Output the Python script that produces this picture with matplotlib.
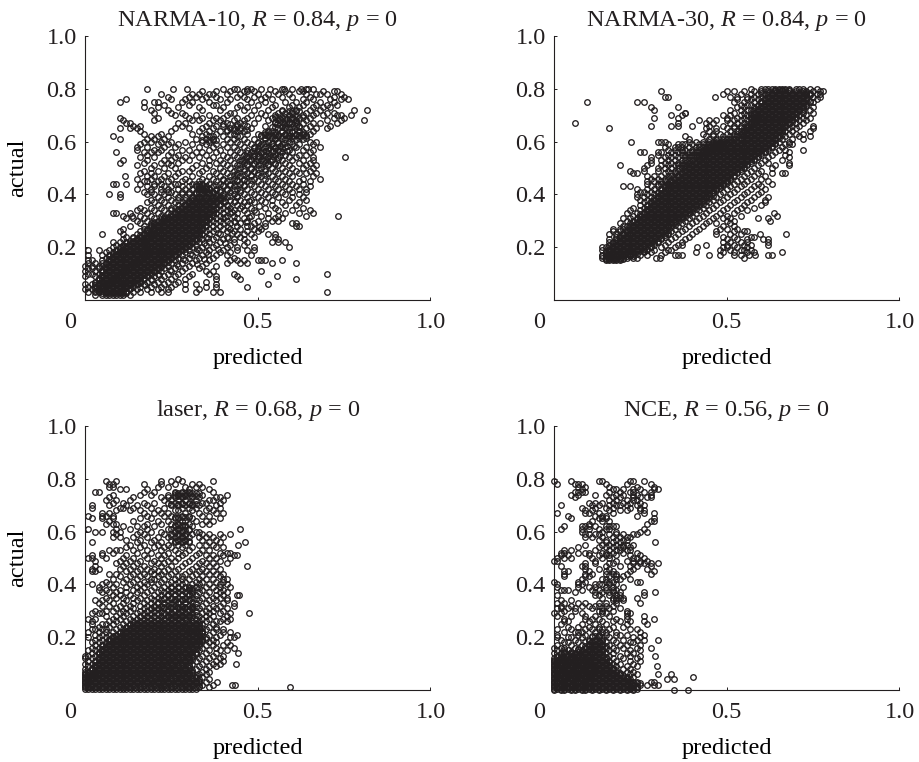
import matplotlib
matplotlib.use("Agg")
import matplotlib.pyplot as plt

# Isolated circles are individual readings; inside the solid black regions single
# circles cannot be told apart, so those rows (the *_core and *_fill lists especially)
# are hand-typed estimates of the coverage, not recovered data.
narma10_rows = [
(.80,[.18,.255,.295,.40,.43,.44,.47,.48,.51,.535,.57,.575,.60,.625,.64,.645,.66]),
(.79,[.34,.38,.42,.46,.47,.49,.55,.58,.62,.63,.69,.73,.72]),
(.78,[.22,.31,.33,.36,.37,.41,.45,.50,.53,.56,.59,.64,.67,.68,.70,.74]),
(.77,[.24,.30,.32,.35,.38,.44,.46,.49,.52,.57,.60,.65,.72,.75]),
(.76,[.12,.25,.29,.34,.39,.42,.47,.51,.54,.63,.66,.71,.76,.74]),
(.75,[.10,.17,.20,.21,.28,.31,.36,.41,.48,.52,.58,.61,.64,.68,.72]),
(.74,[.23,.30,.37,.38,.45,.50,.55,.60,.63,.67,.70,.73]),
(.73,[.17,.21,.27,.33,.40,.44,.47,.54,.59,.62,.66,.69,.71]),
(.72,[.19,.24,.34,.39,.46,.49,.53,.57,.61,.65,.68,.78,.815]),
(.71,[.20,.25,.28,.42,.43,.51,.56,.58,.60,.64,.70,.67,.72]),
(.70,[.26,.29,.32,.36,.41,.48,.52,.55,.59,.63,.66,.69,.73,.74,.77]),
(.69,[.10,.21,.30,.34,.38,.40,.44,.47,.50,.54,.57,.60,.62,.65,.75,.72]),
(.68,[.11,.20,.31,.33,.37,.39,.43,.46,.53,.56,.58,.61,.64,.807,.70,.74]),
(.67,[.12,.13,.27,.29,.36,.41,.45,.49,.55,.59,.60,.63,.66,.68,.73]),
(.66,[.14,.16,.28,.35,.38,.40,.44,.47,.52,.57,.61,.62,.65,.71]),
(.65,[.10,.13,.15,.26,.30,.34,.37,.42,.45,.43,.48,.56,.58,.59,.64,.67,.70]),
(.64,[.16,.25,.33,.36,.39,.41,.44,.46,.53,.54,.57,.60,.62,.66]),
(.63,[.17,.22,.31,.35,.38,.42,.43,.47,.50,.52,.55,.58,.61,.63,.65]),
(.62,[.08,.19,.21,.24,.34,.36,.37,.40,.44,.45,.51,.53,.54,.56,.57,.59,.60,.62,.64]),
(.61,[.10,.18,.20,.23,.32,.35,.37,.41,.43,.46,.49,.52,.55,.58,.61,.63]),
(.60,[.17,.19,.22,.25,.29,.34,.36,.42,.44,.47,.50,.53,.56,.59,.65,.67]),
(.59,[.16,.21,.24,.27,.31,.35,.38,.40,.45,.48,.51,.54,.57,.60,.62,.66]),
(.58,[.15,.18,.23,.26,.33,.37,.41,.43,.46,.49,.52,.55,.58,.61,.64,.68]),
(.57,[.15,.20,.22,.28,.30,.36,.39,.44,.47,.50,.53,.56,.59,.63,.66]),
(.56,[.09,.17,.19,.21,.25,.32,.34,.38,.42,.45,.48,.51,.54,.57,.60,.65]),
(.55,[.18,.24,.27,.31,.35,.40,.43,.46,.49,.52,.55,.58,.62,.64]),
(.54,[.16,.20,.26,.29,.33,.37,.41,.44,.47,.50,.53,.56,.59,.61,.66,.753]),
(.53,[.11,.18,.23,.28,.25,.30,.36,.39,.42,.45,.48,.51,.54,.57,.60,.63,.66]),
(.52,[.10,.17,.22,.24,.27,.34,.38,.40,.43,.46,.49,.52,.55,.58,.62,.65]),
(.51,[.15,.20,.25,.32,.36,.41,.44,.47,.50,.53,.56,.59,.64,.67]),
(.50,[.19,.23,.26,.31,.35,.39,.42,.45,.48,.51,.54,.57,.60,.63,.66]),
(.49,[.21,.17,.28,.30,.34,.37,.40,.43,.46,.49,.52,.55,.58,.61,.65]),
(.48,[.16,.19,.24,.27,.33,.38,.41,.44,.47,.50,.53,.56,.59,.62,.64,.67]),
(.47,[.115,.18,.20,.23,.26,.31,.36,.39,.42,.45,.48,.51,.54,.57,.60,.66]),
(.46,[.15,.19,.22,.25,.29,.34,.37,.40,.43,.46,.49,.52,.55,.58,.63,.68]),
(.45,[.17,.18,.21,.24,.28,.30,.33,.35,.38,.41,.44,.47,.50,.53,.56,.59,.62,.65]),
(.44,[.08,.09,.12,.16,.20,.22,.26,.27,.31,.32,.33,.34,.36,.39,.42,.45,.48,.51,.54,.57,.60,.63]),
(.43,[.18,.20,.23,.25,.28,.30,.32,.33,.34,.35,.37,.40,.43,.46,.49,.52,.55,.58,.61,.65]),
(.42,[.15,.19,.22,.24,.27,.29,.31,.33,.34,.35,.36,.38,.41,.44,.47,.50,.53,.56,.59,.62,.64]),
(.41,[.17,.19,.22,.24,.25,.28,.30,.32,.33,.34,.35,.36,.37,.39,.42,.45,.48,.51,.54,.57,.60,.64]),
(.40,[.07,.10,.18,.20,.23,.26,.28,.30,.32,.34,.36,.38,.40,.43,.46,.49,.52,.55,.58,.62]),
(.39,[.10,.21,.24,.27,.29,.31,.33,.35,.37,.39,.41,.44,.47,.50,.53,.56,.60,.63]),
(.38,[.19,.22,.25,.27,.29,.31,.33,.35,.37,.39,.42,.45,.48,.51,.54,.59,.64]),
(.37,[.18,.20,.23,.26,.28,.30,.32,.34,.36,.38,.40,.43,.46,.49,.52,.57,.62]),
(.36,[.21,.24,.27,.29,.31,.33,.35,.37,.39,.41,.44,.47,.54,.58,.61]),
(.35,[.16,.19,.22,.25,.26,.28,.30,.32,.34,.36,.38,.40,.42,.45,.48,.52,.55,.63]),
(.34,[.15,.17,.20,.23,.25,.27,.29,.31,.33,.35,.37,.39,.41,.43,.46,.49,.56,.60,.65]),
(.33,[.08,.09,.13,.18,.21,.24,.26,.28,.30,.32,.34,.36,.38,.40,.42,.44,.47,.53,.58,.62,.66]),
(.32,[.11,.135,.16,.19,.22,.25,.27,.29,.31,.33,.35,.37,.39,.41,.43,.48,.51,.56,.64,.731]),
(.31,[.12,.14,.17,.20,.23,.24,.26,.28,.30,.32,.34,.36,.38,.40,.44,.46,.53,.55,.57]),
(.30,[.15,.18,.21,.23,.25,.27,.29,.31,.33,.35,.37,.39,.41,.43,.47,.50,.54,.56]),
(.29,[.16,.19,.20,.22,.24,.26,.28,.30,.32,.34,.36,.38,.40,.42,.45,.49,.52,.60,.61]),
(.28,[.13,.17,.19,.21,.23,.25,.27,.29,.31,.33,.35,.37,.39,.44,.47,.48,.52,.61,.62]),
(.27,[.11,.17,.18,.20,.22,.24,.26,.28,.30,.32,.34,.36,.38,.40,.42,.45,.49,.51]),
(.26,[.10,.16,.18,.20,.21,.23,.25,.27,.29,.31,.33,.35,.37,.41,.43,.47,.50]),
(.25,[.05,.11,.15,.17,.19,.20,.22,.24,.26,.28,.30,.32,.34,.36,.39,.44,.46,.48,.53,.55]),
(.24,[.12,.14,.16,.18,.19,.21,.23,.25,.27,.29,.31,.33,.35,.38,.41,.45,.49,.55]),
(.23,[.11,.15,.17,.18,.20,.22,.24,.26,.28,.30,.32,.34,.37,.40,.43,.46,.56]),
(.22,[.08,.10,.12,.14,.16,.17,.19,.21,.23,.25,.27,.29,.31,.33,.36,.39,.43,.47,.54,.56,.58]),
(.21,[.09,.11,.13,.15,.17,.18,.20,.22,.24,.26,.28,.30,.32,.35,.38,.42,.46]),
(.20,[.08,.10,.12,.14,.16,.18,.19,.21,.23,.25,.27,.29,.31,.34,.37,.41,.44,.49,.59]),
(.19,[.01,.04,.07,.09,.11,.13,.15,.17,.18,.20,.22,.24,.26,.28,.30,.33,.36,.40,.44,.47,.49]),
(.18,[.06,.08,.10,.12,.14,.16,.18,.19,.21,.23,.25,.27,.29,.32,.35,.39,.42]),
(.17,[.01,.05,.07,.09,.11,.13,.15,.17,.18,.20,.22,.24,.26,.28,.31,.34,.38,.41,.48]),
(.16,[.06,.08,.10,.12,.14,.16,.17,.19,.21,.23,.25,.27,.30,.33,.37,.43]),
(.15,[.01,.02,.05,.07,.09,.11,.13,.15,.16,.18,.20,.22,.24,.26,.29,.32,.36,.42,.44,.46,.50,.51,.52,.57]),
(.14,[.01,.03,.05,.06,.08,.10,.12,.14,.15,.17,.19,.21,.23,.25,.28,.31,.35,.41,.45,.47,.54,.61]),
(.13,[.00,.02,.04,.05,.07,.09,.11,.13,.14,.16,.18,.20,.22,.24,.27,.30,.34,.38]),
(.12,[.01,.02,.04,.06,.08,.10,.12,.13,.15,.17,.19,.21,.23,.26,.29,.33]),
(.11,[.00,.03,.05,.07,.09,.11,.12,.14,.16,.18,.20,.22,.25,.28,.35,.37,.51]),
(.10,[.01,.02,.04,.06,.08,.10,.11,.13,.15,.17,.19,.21,.24,.27,.31,.36,.43,.70]),
(.09,[.00,.03,.05,.07,.09,.10,.12,.14,.16,.18,.20,.23,.26,.30,.38,.44,.555]),
(.08,[.04,.06,.08,.09,.11,.13,.15,.17,.19,.22,.25,.29,.38,.45,.61]),
(.07,[.03,.05,.07,.08,.10,.12,.14,.16,.18,.21,.24,.27,.35]),
(.06,[.00,.02,.04,.06,.07,.09,.11,.13,.15,.17,.20,.23,.26,.29,.32,.38,.53]),
(.05,[.01,.03,.05,.06,.08,.10,.12,.14,.16,.19,.22,.25,.35,.38,.47]),
(.04,[.00,.02,.04,.05,.07,.09,.11,.13,.15,.18,.21,.24,.29,.33]),
(.03,[.01,.03,.04,.06,.08,.10,.12,.14,.16,.19,.22,.24,.32,.37,.39,.70]),
(.02,[.03,.05,.06,.07,.08,.09,.10,.11,.13]),
]
narma10_core = [
(.715,[.57,.59,.60,.61,.62]),
(.695,[.55,.56,.58,.60,.61,.63]),
(.675,[.55,.57,.59,.61]),
(.665,[.40,.42,.44,.46]),
(.655,[.54,.55,.57,.58,.60,.62]),
(.645,[.41,.43,.45,.47]),
(.635,[.52,.53,.55,.57,.59,.60,.62,.63]),
(.625,[.51,.52,.53,.55,.56,.58,.59,.61,.62,.63,.64]),
(.615,[.52,.54,.55,.57,.59,.60,.62,.64]),
(.605,[.34,.36,.37,.38]),
(.595,[.50,.52,.54,.56,.58]),
(.575,[.49,.50,.53,.55,.57]),
(.555,[.47,.49,.51,.53,.55]),
(.535,[.46,.48,.50,.52,.54,.56]),
(.515,[.45,.47,.49,.51,.53,.55]),
(.495,[.44,.46,.48,.50,.52]),
(.475,[.43,.44,.46,.48,.50,.52]),
(.455,[.40,.42,.44,.46,.48]),
(.435,[.38,.40,.42,.44,.46]),
(.425,[.33,.34,.35,.36]),
(.415,[.38,.39,.41,.43,.45]),
(.405,[.32,.33,.34,.35,.36,.37]),
(.395,[.38,.40,.42,.44]),
(.385,[.31,.32,.33,.34,.35,.36,.37,.38,.39,.40]),
(.365,[.29,.30,.31,.32,.33,.34,.35,.36,.37,.38,.39]),
(.345,[.27,.28,.29,.30,.31,.32,.33,.34,.35,.36,.37,.38]),
(.325,[.25,.26,.27,.28,.29,.30,.31,.32,.33,.34,.35,.36,.37]),
(.305,[.22,.23,.24,.25,.26,.27,.28,.29,.30,.31,.32,.33,.34,.35,.36]),
(.285,[.19,.20,.21,.22,.23,.24,.25,.26,.27,.28,.29,.30,.31,.32,.33,.34,.35]),
(.265,[.18,.19,.20,.21,.22,.23,.24,.25,.26,.27,.28,.29,.30,.31,.32,.33,.34]),
(.245,[.16,.17,.18,.19,.20,.21,.22,.23,.24,.25,.26,.27,.28,.29,.30,.31,.32,.33]),
(.225,[.13,.14,.15,.16,.17,.18,.19,.20,.21,.22,.23,.24,.25,.26,.27,.28,.29,.30,.31,.32]),
(.205,[.11,.12,.13,.14,.15,.16,.17,.18,.19,.20,.21,.22,.23,.24,.25,.26,.27,.28,.29,.30]),
(.185,[.09,.10,.11,.12,.13,.14,.15,.16,.17,.18,.19,.20,.21,.22,.23,.24,.25,.26,.27]),
(.165,[.07,.08,.09,.10,.11,.12,.13,.14,.15,.16,.17,.18,.19,.20,.21,.22,.23,.24,.25,.26]),
(.145,[.07,.08,.09,.10,.11,.12,.13,.14,.15,.16,.17,.18,.19,.20,.21,.22,.23,.24]),
(.125,[.06,.07,.08,.09,.10,.11,.12,.13,.14,.15,.16,.17,.18,.19,.20,.21,.22]),
(.105,[.05,.06,.07,.08,.09,.10,.11,.12,.13,.14,.15,.16,.17,.18,.19,.20]),
(.085,[.04,.05,.06,.07,.08,.09,.10,.11,.12,.13,.14,.15,.16,.17]),
(.065,[.03,.04,.05,.06,.07,.08,.09,.10,.11,.12,.13,.14,.15,.16]),
(.045,[.03,.04,.05,.06,.07,.08,.09,.10,.11,.12,.13]),
(.025,[.05,.06,.07,.08,.09,.10,.11,.12]),
]
narma10_fill = [
(.375,[.30,.31,.32,.33,.34,.35,.36,.37,.38,.405,.435,.475]),
(.355,[.28,.29,.30,.31,.32,.33,.34,.35,.36,.37,.415,.455,.505]),
(.335,[.26,.27,.28,.29,.30,.31,.32,.33,.34,.35,.36,.37,.425,.495]),
(.315,[.23,.24,.25,.26,.27,.28,.29,.30,.31,.32,.33,.34,.35,.36,.405,.475]),
(.295,[.20,.21,.22,.23,.24,.25,.26,.27,.28,.29,.30,.31,.32,.33,.34,.35,.435,.465]),
(.275,[.19,.20,.21,.22,.23,.24,.25,.26,.27,.28,.29,.30,.31,.32,.33,.34,.415,.505]),
(.255,[.17,.18,.19,.20,.21,.22,.23,.24,.25,.26,.27,.28,.29,.30,.31,.32,.33,.385,.425]),
(.235,[.14,.15,.16,.17,.18,.19,.20,.21,.22,.23,.24,.25,.26,.27,.28,.29,.30,.31,.32,.355,.415]),
(.215,[.12,.13,.14,.15,.16,.17,.18,.19,.20,.21,.22,.23,.24,.25,.26,.27,.28,.29,.30,.31,.345,.405]),
(.195,[.10,.11,.12,.13,.14,.15,.16,.17,.18,.19,.20,.21,.22,.23,.24,.25,.26,.27,.28,.29,.325,.385]),
(.175,[.08,.09,.10,.11,.12,.13,.14,.15,.16,.17,.18,.19,.20,.21,.22,.23,.24,.25,.26,.27,.305,.355]),
(.155,[.07,.08,.09,.10,.11,.12,.13,.14,.15,.16,.17,.18,.19,.20,.21,.22,.23,.24,.25,.285,.345]),
(.135,[.06,.07,.08,.09,.10,.11,.12,.13,.14,.15,.16,.17,.18,.19,.20,.21,.22,.23,.265,.325]),
(.115,[.05,.06,.07,.08,.09,.10,.11,.12,.13,.14,.15,.16,.17,.18,.19,.20,.21,.245]),
(.095,[.05,.06,.07,.08,.09,.10,.11,.12,.13,.14,.15,.16,.17,.18,.215]),
(.075,[.04,.05,.06,.07,.08,.09,.10,.11,.12,.13,.14,.15,.16,.195]),
(.055,[.03,.04,.05,.06,.07,.08,.09,.10,.11,.12,.13,.14,.175]),
(.035,[.03,.04,.05,.06,.07,.08,.09,.10,.11,.12]),
(.585,[.505,.525,.545,.565,.585,.605]),
(.565,[.485,.505,.525,.545,.565,.585]),
(.545,[.465,.485,.505,.525,.545,.565]),
(.525,[.455,.475,.495,.515,.535]),
(.665,[.555,.575,.595,.615]),
(.685,[.565,.585,.605]),
]

narma30_rows = [
(.80,[.57,.60,.61,.62,.63,.64,.65,.66,.67,.68,.70,.71,.72,.74,.76]),
(.79,[.50,.52,.55,.58,.60,.62,.64,.66,.68,.70,.72,.73,.75,.77,.78,.31]),
(.78,[.49,.54,.57,.59,.61,.63,.65,.67,.69,.71,.73,.74,.76,.77]),
(.77,[.33,.32,.465,.51,.53,.56,.58,.60,.62,.64,.66,.68,.70,.72,.75,.77]),
(.76,[.53,.56,.57,.59,.61,.63,.65,.67,.69,.71,.73,.76]),
(.75,[.096,.24,.26,.52,.55,.58,.60,.62,.64,.66,.68,.70,.72,.74,.75]),
(.74,[.54,.56,.57,.59,.61,.63,.65,.67,.69,.71,.73]),
(.73,[.28,.36,.53,.55,.58,.60,.62,.64,.66,.68,.70,.72,.75]),
(.72,[.29,.51,.54,.56,.57,.59,.61,.63,.65,.67,.69,.71,.74]),
(.71,[.38,.38,.52,.55,.58,.60,.62,.64,.66,.68,.70,.72,.75]),
(.70,[.34,.37,.49,.51,.54,.56,.57,.59,.61,.63,.65,.67,.69,.71,.73]),
(.69,[.29,.36,.50,.53,.55,.57,.59,.60,.62,.64,.66,.68,.70,.72,.74]),
(.68,[.42,.45,.47,.50,.52,.54,.56,.58,.59,.61,.63,.65,.67,.69,.71,.73]),
(.67,[.062,.36,.44,.46,.51,.53,.55,.57,.58,.60,.62,.64,.66,.68,.70,.72]),
(.66,[.28,.34,.36,.40,.45,.49,.52,.54,.56,.57,.59,.61,.63,.65,.67,.69,.71,.75]),
(.65,[.158,.44,.47,.50,.52,.54,.55,.56,.58,.60,.62,.64,.66,.68,.70,.75]),
(.64,[.45,.47,.51,.53,.54,.55,.57,.59,.61,.63,.65,.67,.69,.74]),
(.63,[.43,.46,.48,.50,.52,.53,.54,.56,.58,.60,.62,.64,.66,.68,.70,.72]),
(.62,[.38,.44,.46,.49,.51,.52,.53,.55,.57,.59,.61,.63,.65,.67,.71,.74]),
(.61,[.39,.45,.47,.49,.50,.51,.52,.54,.56,.58,.60,.62,.64,.66,.69,.72]),
(.60,[.224,.30,.31,.32,.39,.41,.43,.45,.46,.47,.48,.49,.50,.51,.53,.55,.57,.59,.61,.63,.65,.68]),
(.59,[.33,.36,.37,.38,.40,.42,.43,.44,.45,.46,.47,.48,.49,.50,.52,.54,.56,.58,.60,.62,.64,.67,.68,.69]),
(.58,[.32,.35,.36,.37,.39,.41,.42,.43,.44,.45,.46,.47,.48,.49,.51,.53,.55,.57,.59,.61,.63,.66]),
(.57,[.33,.35,.37,.38,.40,.41,.42,.43,.44,.45,.46,.47,.48,.50,.52,.54,.56,.58,.60,.62,.65,.67,.72]),
(.56,[.25,.26,.30,.31,.34,.36,.37,.39,.40,.41,.42,.43,.44,.45,.47,.49,.51,.53,.55,.57,.59,.61,.64,.68]),
(.55,[.30,.33,.35,.37,.38,.39,.40,.41,.42,.43,.44,.46,.48,.50,.52,.54,.56,.58,.60,.63,.67]),
(.54,[.28,.32,.34,.36,.38,.39,.40,.41,.42,.43,.45,.47,.49,.51,.53,.55,.57,.59,.62,.68]),
(.53,[.28,.31,.33,.35,.37,.38,.39,.40,.42,.44,.46,.48,.50,.52,.54,.56,.58,.61,.66]),
(.52,[.28,.32,.34,.36,.37,.38,.39,.41,.43,.45,.47,.49,.51,.53,.55,.57,.60,.62,.68]),
(.51,[.19,.27,.31,.33,.35,.36,.37,.38,.40,.42,.44,.46,.48,.50,.52,.54,.56,.59,.64,.68]),
(.50,[.26,.30,.32,.34,.36,.37,.39,.41,.43,.45,.47,.49,.51,.53,.55,.58,.63]),
(.49,[.22,.26,.30,.33,.35,.36,.38,.40,.42,.44,.46,.48,.50,.52,.54,.57,.60]),
(.48,[.23,.24,.32,.34,.35,.37,.39,.41,.43,.45,.47,.49,.51,.53,.56,.59,.63,.66,.67]),
(.47,[.27,.29,.31,.33,.34,.36,.38,.40,.42,.44,.46,.48,.50,.52,.55,.58,.61]),
(.46,[.28,.30,.32,.33,.35,.37,.39,.41,.43,.45,.47,.49,.51,.54,.57,.60]),
(.45,[.27,.29,.31,.32,.34,.36,.38,.40,.42,.44,.46,.48,.50,.53,.56,.62]),
(.44,[.27,.30,.31,.33,.35,.37,.39,.41,.43,.45,.47,.49,.52,.55,.59,.63]),
(.43,[.20,.22,.28,.30,.32,.34,.36,.38,.40,.42,.44,.46,.48,.51,.54,.58,.60]),
(.42,[.24,.27,.29,.31,.33,.35,.37,.39,.41,.43,.45,.47,.50,.53,.57,.61]),
(.41,[.25,.26,.28,.30,.32,.34,.36,.38,.40,.42,.44,.46,.49,.52,.56,.60]),
(.40,[.24,.27,.29,.31,.33,.35,.37,.39,.41,.43,.45,.48,.51,.55,.59]),
(.39,[.24,.26,.28,.30,.32,.34,.36,.38,.40,.42,.44,.47,.50,.54,.58,.62]),
(.38,[.25,.27,.29,.31,.33,.35,.37,.39,.41,.43,.46,.49,.53,.57,.61]),
(.37,[.26,.28,.30,.32,.34,.36,.38,.40,.42,.45,.48,.52,.56,.61]),
(.36,[.25,.27,.29,.31,.33,.35,.37,.39,.41,.44,.47,.51,.55,.60]),
(.35,[.23,.26,.28,.30,.32,.34,.36,.38,.40,.43,.46,.50,.54,.58]),
(.34,[.22,.25,.27,.29,.31,.33,.35,.37,.39,.42,.45,.49,.53,.56]),
(.33,[.21,.24,.26,.28,.30,.32,.34,.36,.38,.41,.44,.48,.52,.637]),
(.32,[.23,.25,.27,.29,.31,.33,.35,.37,.40,.43,.47,.50,.54,.645]),
(.31,[.20,.22,.24,.26,.28,.30,.32,.34,.36,.39,.42,.46,.49,.51,.59,.62]),
(.30,[.21,.23,.25,.27,.29,.31,.33,.35,.38,.41,.45,.50,.52,.624]),
(.29,[.19,.22,.24,.26,.28,.30,.32,.34,.37,.40,.44,.47,.51]),
(.28,[.20,.21,.23,.25,.27,.29,.31,.33,.36,.39,.43,.49,.52]),
(.27,[.17,.19,.20,.22,.24,.26,.28,.30,.32,.35,.38,.42,.48,.50,.53]),
(.26,[.17,.19,.21,.23,.25,.27,.29,.31,.34,.37,.41,.47,.52,.55,.56]),
(.25,[.16,.18,.20,.22,.24,.26,.28,.30,.33,.36,.40,.47,.51,.54,.595,.671]),
(.24,[.18,.19,.21,.23,.25,.27,.29,.32,.35,.39,.49,.52,.57,.58]),
(.23,[.16,.18,.20,.22,.24,.26,.28,.31,.34,.38,.50,.53,.56,.606,.619]),
(.22,[.16,.17,.19,.21,.23,.25,.27,.30,.33,.37,.49,.51,.54,.56,.62]),
(.21,[.16,.18,.20,.22,.24,.26,.29,.32,.36,.37,.44,.50,.52,.55,.57,.62]),
(.20,[.14,.15,.17,.19,.21,.23,.25,.28,.31,.35,.413,.49,.50,.53,.56]),
(.19,[.14,.16,.18,.20,.22,.24,.27,.29,.33,.34,.48,.51,.54,.55,.57]),
(.18,[.15,.16,.17,.19,.21,.23,.26,.28,.32,.41,.49,.52,.56,.58,.66]),
(.17,[.14,.15,.16,.18,.20,.22,.25,.27,.31,.35,.36,.37,.45,.48,.52,.54,.563,.581,.619,.632]),
(.16,[.14,.15,.16,.17,.18,.19,.20,.21,.23,.24,.294,.307,.55]),
(.15,[.15,.16,.17,.18,.19]),
]
narma30_core = [
(.795,[.64,.65,.66,.67,.68]),
(.775,[.62,.63,.64,.65,.66,.67,.68,.69,.70,.71,.72,.73,.74]),
(.755,[.60,.61,.62,.63,.64,.65,.66,.67,.68,.69,.70,.71,.72,.73,.74]),
(.735,[.59,.60,.61,.62,.63,.64,.65,.66,.67,.68,.69,.70,.71,.72,.73]),
(.715,[.58,.59,.60,.61,.62,.63,.64,.65,.66,.67,.68,.69,.70,.71,.72]),
(.695,[.57,.58,.59,.60,.61,.62,.63,.64,.65,.66,.67,.68,.69,.70]),
(.675,[.57,.58,.59,.60,.61,.62,.63,.64,.65,.66,.67,.68,.69]),
(.655,[.56,.57,.58,.59,.60,.61,.62,.63,.64,.65,.66,.67]),
(.635,[.55,.56,.57,.58,.59,.60,.61,.62,.63,.64,.65,.66]),
(.615,[.54,.55,.56,.57,.58,.59,.60,.61,.62,.63,.64,.65]),
(.595,[.47,.48,.49,.50,.51,.52,.53,.54,.55,.56,.57,.58,.59,.60,.61,.62,.63,.64]),
(.575,[.44,.45,.46,.47,.48,.49,.50,.51,.52,.53,.54,.55,.56,.57,.58,.59,.60,.61,.62]),
(.555,[.43,.44,.45,.46,.47,.48,.49,.50,.51,.52,.53,.54,.55,.56,.57,.58,.59,.60]),
(.535,[.42,.43,.44,.45,.46,.47,.48,.49,.50,.51,.52,.53,.54,.55,.56,.57,.58]),
(.515,[.39,.40,.41,.42,.43,.44,.45,.46,.47,.48,.49,.50,.51,.52,.53,.54,.55,.56]),
(.495,[.38,.39,.40,.41,.42,.43,.44,.45,.46,.47,.48,.49,.50,.51,.52,.53,.54]),
(.475,[.36,.37,.38,.39,.40,.41,.42,.43,.44,.45,.46,.47,.48,.49,.50,.51,.52]),
(.455,[.34,.35,.36,.37,.38,.39,.40,.41,.42,.43,.44,.45,.46,.47,.48,.49,.50,.51]),
(.435,[.32,.33,.34,.35,.36,.37,.38,.39,.40,.41,.42,.43,.44,.45,.46,.47,.48,.49]),
(.415,[.31,.32,.33,.34,.35,.36,.37,.38,.39,.40,.41,.42,.43,.44,.45,.46,.47]),
(.395,[.30,.31,.32,.33,.34,.35,.36,.37,.38,.39,.40,.41,.42,.43,.44,.45,.46]),
(.375,[.28,.29,.30,.31,.32,.33,.34,.35,.36,.37,.38,.39,.40,.41,.42,.43,.44]),
(.355,[.27,.28,.29,.30,.31,.32,.33,.34,.35,.36,.37,.38,.39,.40,.41,.42]),
(.335,[.26,.27,.28,.29,.30,.31,.32,.33,.34,.35,.36,.37,.38,.39,.40]),
(.315,[.25,.26,.27,.28,.29,.30,.31,.32,.33,.34,.35,.36,.37,.38]),
(.295,[.23,.24,.25,.26,.27,.28,.29,.30,.31,.32,.33,.34,.35,.36]),
(.275,[.22,.23,.24,.25,.26,.27,.28,.29,.30,.31,.32,.33,.34]),
(.255,[.20,.21,.22,.23,.24,.25,.26,.27,.28,.29,.30,.31,.32,.33]),
(.235,[.19,.20,.21,.22,.23,.24,.25,.26,.27,.28,.29,.30,.31]),
(.215,[.17,.18,.19,.20,.21,.22,.23,.24,.25,.26,.27,.28,.29]),
(.195,[.16,.17,.18,.19,.20,.21,.22,.23,.24,.25,.26,.27]),
(.175,[.15,.16,.17,.18,.19,.20,.21,.22,.23,.24]),
(.155,[.15,.16,.17,.18,.19,.20]),
]
narma30_fill = [
(.785,[.60,.62,.63,.64,.65,.66,.67,.68,.69,.70,.71,.72,.73,.74]),
(.765,[.61,.62,.63,.64,.65,.66,.67,.68,.69,.70,.71,.72,.73]),
(.745,[.60,.61,.62,.63,.64,.65,.66,.67,.68,.69,.70,.71,.72,.73]),
(.725,[.58,.59,.60,.61,.62,.63,.64,.65,.66,.67,.68,.69,.70,.71,.72]),
(.705,[.57,.58,.59,.60,.61,.62,.63,.64,.65,.66,.67,.68,.69,.70]),
(.685,[.57,.58,.59,.60,.61,.62,.63,.64,.65,.66,.67,.68,.69]),
(.665,[.56,.57,.58,.59,.60,.61,.62,.63,.64,.65,.66,.67,.68]),
(.645,[.55,.56,.57,.58,.59,.60,.61,.62,.63,.64,.65,.66]),
(.625,[.54,.55,.56,.57,.58,.59,.60,.61,.62,.63,.64,.65]),
(.605,[.47,.49,.51,.52,.53,.54,.55,.56,.57,.58,.59,.60,.61,.62,.63,.64]),
(.585,[.45,.46,.47,.48,.49,.50,.51,.52,.53,.54,.55,.56,.57,.58,.59,.60,.61,.62,.63]),
(.565,[.43,.44,.45,.46,.47,.48,.49,.50,.51,.52,.53,.54,.55,.56,.57,.58,.59,.60,.61]),
(.545,[.42,.43,.44,.45,.46,.47,.48,.49,.50,.51,.52,.53,.54,.55,.56,.57,.58,.59]),
(.525,[.40,.41,.42,.43,.44,.45,.46,.47,.48,.49,.50,.51,.52,.53,.54,.55,.56,.57]),
(.505,[.38,.39,.40,.41,.42,.43,.44,.45,.46,.47,.48,.49,.50,.51,.52,.53,.54,.55]),
(.485,[.37,.38,.39,.40,.41,.42,.43,.44,.45,.46,.47,.48,.49,.50,.51,.52,.53]),
(.465,[.35,.36,.37,.38,.39,.40,.41,.42,.43,.44,.45,.46,.47,.48,.49,.50,.51]),
(.445,[.33,.34,.35,.36,.37,.38,.39,.40,.41,.42,.43,.44,.45,.46,.47,.48,.49,.50]),
(.425,[.32,.33,.34,.35,.36,.37,.38,.39,.40,.41,.42,.43,.44,.45,.46,.47,.48]),
(.405,[.30,.31,.32,.33,.34,.35,.36,.37,.38,.39,.40,.41,.42,.43,.44,.45,.46]),
(.385,[.29,.30,.31,.32,.33,.34,.35,.36,.37,.38,.39,.40,.41,.42,.43,.44,.45]),
(.365,[.28,.29,.30,.31,.32,.33,.34,.35,.36,.37,.38,.39,.40,.41,.42,.43]),
(.345,[.27,.28,.29,.30,.31,.32,.33,.34,.35,.36,.37,.38,.39,.40,.41]),
(.325,[.25,.26,.27,.28,.29,.30,.31,.32,.33,.34,.35,.36,.37,.38,.39]),
(.305,[.24,.25,.26,.27,.28,.29,.30,.31,.32,.33,.34,.35,.36,.37]),
(.285,[.22,.23,.24,.25,.26,.27,.28,.29,.30,.31,.32,.33,.34,.35]),
(.265,[.21,.22,.23,.24,.25,.26,.27,.28,.29,.30,.31,.32,.33]),
(.245,[.19,.20,.21,.22,.23,.24,.25,.26,.27,.28,.29,.30,.31,.32]),
(.225,[.18,.19,.20,.21,.22,.23,.24,.25,.26,.27,.28,.29,.30]),
(.205,[.16,.17,.18,.19,.20,.21,.22,.23,.24,.25,.26,.27,.28]),
(.185,[.15,.16,.17,.18,.19,.20,.21,.22,.23,.24,.25,.26]),
(.165,[.14,.15,.16,.17,.18,.19,.20,.21,.22,.23]),
]

laser_rows = [
(.80,[.27]),
(.79,[.06,.09,.22,.25,.28,.37]),
(.78,[.07,.08,.17,.22,.26,.33,.31]),
(.77,[.07,.08,.21,.24,.29,.32,.34]),
(.76,[.12,.10,.18,.30,.36]),
(.75,[.03,.04,.17,.20,.26,.28,.30,.37]),
(.74,[.08,.16,.19,.24,.26,.27,.29,.34,.41]),
(.73,[.07,.14,.22,.24,.26,.28,.31,.33,.38,.39]),
(.72,[.06,.09,.13,.23,.25,.27,.29,.32,.36,.37,.40]),
(.71,[.08,.11,.17,.20,.24,.26,.28,.30,.34,.35,.39]),
(.70,[.02,.07,.12,.15,.18,.25,.27,.29,.31,.33,.38]),
(.69,[.02,.10,.11,.14,.19,.23,.28,.30,.32,.36,.39]),
(.68,[.09,.13,.16,.21,.26,.27,.31,.35,.37]),
(.67,[.05,.07,.17,.20,.22,.24,.29,.33,.38,.40]),
(.66,[.05,.01,.06,.08,.18,.23,.25,.28,.30,.34,.36]),
(.65,[.02,.05,.08,.16,.19,.26,.27,.31,.39]),
(.64,[.07,.14,.21,.24,.28,.29,.32,.35,.37]),
(.63,[.06,.08,.09,.18,.22,.25,.27,.30,.34,.36]),
(.62,[.11,.15,.17,.20,.26,.28,.29,.31]),
(.61,[.01,.09,.13,.18,.24,.25,.27,.30,.449]),
(.60,[.03,.05,.08,.10,.16,.19,.22,.26,.28,.32,.33]),
(.59,[.09,.15,.17,.23,.25,.27,.29,.31,.34,.36,.42,.39]),
(.58,[.08,.10,.14,.18,.21,.24,.26,.28,.30,.33,.35,.37,.40]),
(.57,[.12,.16,.20,.25,.27,.29,.34,.38]),
(.56,[.02,.15,.19,.22,.26,.28,.30,.36,.39,.463]),
(.55,[.13,.17,.21,.24,.27,.29,.33,.35,.37,.443]),
(.54,[.12,.16,.20,.23,.25,.28,.31,.38,.40]),
(.53,[.07,.09,.10,.14,.18,.22,.26,.30,.34,.36]),
(.52,[.05,.08,.15,.19,.24,.27,.29,.33,.39,.41,.42]),
(.51,[.02,.05,.12,.17,.21,.23,.28,.32,.35,.37,.40,.43,.44]),
(.50,[.01,.02,.06,.11,.14,.18,.22,.25,.27,.31,.36,.38,.42]),
(.49,[.03,.10,.13,.16,.20,.24,.26,.30,.34,.39]),
(.48,[.09,.12,.15,.19,.21,.23,.29,.33,.35,.37,.41]),
(.47,[.03,.11,.14,.17,.22,.25,.28,.32,.36,.38,.468]),
(.46,[.02,.04,.10,.13,.16,.18,.20,.24,.27,.31,.34,.39]),
(.45,[.02,.03,.12,.15,.19,.21,.23,.26,.30,.33,.35,.37]),
(.44,[.07,.09,.14,.17,.20,.22,.25,.29,.32,.36,.38,.40]),
(.43,[.10,.13,.16,.18,.21,.24,.27,.28,.31,.34,.39]),
(.42,[.08,.12,.15,.19,.20,.23,.26,.28,.30,.33,.35,.37,.40,.41]),
(.41,[.06,.11,.14,.17,.19,.22,.25,.27,.29,.32,.34,.38,.40]),
(.40,[.02,.05,.07,.09,.13,.16,.18,.21,.24,.26,.28,.31,.33,.36,.39,.41]),
(.39,[.04,.08,.12,.15,.17,.20,.23,.25,.27,.29,.30,.32,.35,.37,.39,.42]),
(.38,[.04,.06,.10,.14,.16,.19,.22,.24,.26,.28,.30,.31,.34,.38,.40]),
(.37,[.05,.07,.09,.12,.15,.18,.21,.23,.25,.27,.29,.31,.33,.36,.39,.41]),
(.36,[.08,.10,.13,.17,.20,.22,.24,.26,.28,.30,.32,.35,.38,.40,.44,.445]),
(.35,[.06,.09,.11,.14,.16,.19,.21,.23,.25,.27,.29,.31,.34,.37,.39,.41]),
(.34,[.03,.05,.07,.12,.15,.18,.20,.22,.24,.26,.28,.30,.33,.36,.38,.41]),
(.33,[.04,.08,.11,.14,.17,.19,.21,.23,.25,.27,.29,.32,.35,.40,.43]),
(.32,[.05,.07,.10,.13,.16,.18,.20,.22,.24,.26,.28,.30,.31,.34,.37,.39,.43]),
(.31,[.09,.12,.14,.17,.19,.21,.23,.25,.27,.29,.31,.33,.36,.38,.41]),
(.30,[.03,.06,.08,.11,.13,.16,.18,.20,.22,.24,.26,.28,.30,.32,.35,.37,.40]),
(.29,[.02,.04,.05,.10,.12,.15,.17,.19,.21,.23,.25,.27,.29,.31,.34,.36,.39,.476,.42]),
(.28,[.06,.09,.11,.14,.16,.18,.20,.22,.24,.26,.28,.30,.33,.35,.37,.41]),
(.27,[.01,.03,.08,.10,.13,.15,.17,.19,.21,.23,.25,.27,.29,.32,.34,.36,.40,.42]),
(.26,[.02,.07,.09,.12,.14,.16,.18,.20,.22,.24,.26,.28,.31,.33,.35,.38,.39,.41]),
(.25,[.02,.05,.06,.08,.11,.13,.15,.17,.19,.21,.23,.25,.27,.30,.32,.34,.37]),
(.24,[.04,.07,.10,.12,.14,.16,.18,.20,.22,.24,.26,.28,.29,.31,.33,.36,.38]),
(.23,[.02,.03,.05,.06,.09,.11,.13,.15,.17,.19,.21,.23,.25,.27,.30,.32,.35,.38,.40]),
(.22,[.01,.04,.06,.08,.10,.12,.14,.16,.18,.20,.22,.24,.26,.28,.30,.32,.34,.37,.40,.42]),
(.21,[.03,.05,.07,.09,.11,.13,.15,.17,.19,.21,.23,.25,.27,.29,.31,.33,.36,.39,.441]),
(.20,[.01,.04,.06,.08,.10,.12,.14,.16,.18,.20,.22,.24,.26,.28,.30,.32,.35,.38,.42,.43]),
(.19,[.03,.05,.07,.09,.11,.13,.15,.17,.19,.21,.23,.25,.27,.29,.31,.34,.37]),
(.18,[.02,.04,.06,.08,.10,.12,.14,.16,.18,.20,.22,.24,.26,.28,.30,.33,.36,.38,.41]),
(.17,[.03,.05,.07,.09,.11,.13,.15,.17,.19,.21,.23,.25,.27,.29,.32,.35,.37,.40,.42]),
(.16,[.02,.04,.06,.08,.10,.12,.14,.16,.18,.20,.22,.24,.26,.28,.31,.34,.38,.43]),
(.15,[.01,.03,.05,.07,.09,.11,.13,.15,.17,.19,.21,.23,.25,.27,.30,.33,.36,.39,.41]),
(.14,[.02,.04,.06,.08,.10,.12,.14,.16,.18,.20,.22,.24,.26,.29,.32,.35,.38,.443]),
(.13,[.00,.01,.03,.05,.07,.09,.11,.13,.15,.17,.19,.21,.23,.25,.28,.31,.34,.37,.40]),
(.12,[.00,.02,.04,.06,.08,.10,.12,.14,.16,.18,.20,.22,.24,.27,.30,.33,.36,.39]),
(.11,[.01,.03,.05,.07,.09,.11,.13,.15,.17,.19,.21,.23,.26,.29,.32,.35,.38,.40]),
(.10,[.00,.02,.04,.06,.08,.10,.12,.14,.16,.18,.20,.22,.25,.28,.31,.34,.37,.39,.437]),
(.09,[.01,.03,.05,.07,.09,.11,.13,.15,.17,.19,.21,.24,.27,.30,.33,.36,.38]),
(.08,[.00,.02,.04,.06,.08,.10,.12,.14,.16,.18,.20,.23,.26,.29,.32,.35]),
(.07,[.00,.01,.03,.05,.07,.09,.11,.13,.15,.17,.19,.22,.25,.28,.31,.34,.36]),
(.06,[.00,.02,.03,.04,.06,.08,.10,.12,.14,.16,.18,.21,.24,.27,.30,.33,.35]),
(.05,[.00,.01,.02,.03,.05,.07,.09,.11,.13,.15,.17,.20,.23,.26,.29,.32,.34]),
(.04,[.00,.01,.02,.04,.06,.08,.10,.12,.14,.16,.19,.22,.25,.28,.31,.33,.36]),
(.03,[.00,.01,.03,.05,.07,.09,.11,.13,.15,.18,.21,.24,.27,.30,.32,.35,.383]),
(.02,[.00,.02,.04,.06,.08,.10,.12,.14,.17,.20,.23,.26,.29,.31,.34,.37,.425,.434]),
(.01,[.00,.01,.03,.05,.07,.09,.11,.13,.16,.19,.22,.25,.28,.30,.33,.36,.592]),
]
laser_core = [
(.745,[.26,.27,.28,.29,.30,.31,.32,.33]),
(.705,[.25,.27,.28,.30,.31,.32]),
(.655,[.26,.27,.28,.29,.30]),
(.605,[.26,.27,.28,.29,.30]),
(.565,[.26,.27,.28,.29,.30]),
(.385,[.25,.27,.29,.30,.31,.33]),
(.345,[.23,.25,.26,.28,.29,.30,.32]),
(.315,[.20,.22,.23,.25,.27,.28,.29,.31,.32]),
(.285,[.17,.19,.21,.23,.24,.25,.26,.27,.28,.29,.30,.31,.32]),
(.255,[.14,.15,.16,.17,.18,.19,.20,.21,.22,.23,.24,.25,.26,.27,.28,.29,.30,.31,.32,.33]),
(.235,[.12,.13,.14,.15,.16,.17,.18,.19,.20,.21,.22,.23,.24,.25,.26,.27,.28,.29,.30,.31,.32,.33,.34]),
(.215,[.10,.11,.12,.13,.14,.15,.16,.17,.18,.19,.20,.21,.22,.23,.24,.25,.26,.27,.28,.29,.30,.31,.32,.33,.34]),
(.195,[.07,.08,.09,.10,.11,.12,.13,.14,.15,.16,.17,.18,.19,.20,.21,.22,.23,.24,.25,.26,.27,.28,.29,.30,.31,.32,.33,.34,.35]),
(.175,[.06,.07,.08,.09,.10,.11,.12,.13,.14,.15,.16,.17,.18,.19,.20,.21,.22,.23,.24,.25,.26,.27,.28,.29,.30,.31,.32,.33]),
(.155,[.05,.06,.07,.08,.09,.10,.11,.12,.13,.14,.15,.16,.17,.18,.19,.20,.21,.22,.23,.24,.25,.26,.27,.28,.29,.30,.31,.32]),
(.135,[.04,.05,.06,.07,.08,.09,.10,.11,.12,.13,.14,.15,.16,.17,.18,.19,.20,.21,.22,.23,.24,.25,.26,.27,.28,.29,.30,.31,.32]),
(.115,[.04,.05,.06,.07,.08,.09,.10,.11,.12,.13,.14,.15,.16,.17,.18,.19,.20,.21,.22,.23,.24,.25,.26,.27,.28,.29,.30,.31]),
(.095,[.03,.04,.05,.06,.07,.08,.09,.10,.11,.12,.13,.14,.15,.16,.17,.18,.19,.20,.21,.22,.23,.24,.25,.26,.27,.28,.29,.30]),
(.075,[.02,.03,.04,.05,.06,.07,.08,.09,.10,.11,.12,.13,.14,.15,.16,.17,.18,.19,.20,.21,.22,.23,.24,.25,.26,.27,.28,.29,.30,.31]),
(.055,[.00,.01,.02,.03,.04,.05,.06,.07,.08,.09,.10,.11,.12,.13,.14,.15,.16,.17,.18,.19,.20,.21,.22,.23,.24,.25,.26,.27,.28,.29,.30,.31,.32]),
(.035,[.00,.01,.02,.03,.04,.05,.06,.07,.08,.09,.10,.11,.12,.13,.14,.15,.16,.17,.18,.19,.20,.21,.22,.23,.24,.25,.26,.27,.28,.29,.30,.31,.32,.33]),
(.015,[.00,.01,.02,.03,.04,.05,.06,.07,.08,.09,.10,.11,.12,.13,.14,.15,.16,.17,.18,.19,.20,.21,.22,.23,.24,.25,.26,.27,.28,.29,.30,.31,.32,.33]),
]
laser_fill = [
(.735,[.27,.28,.29,.30,.31,.32]),
(.625,[.26,.27,.28,.29]),
(.585,[.25,.27,.28,.29]),
(.365,[.24,.26,.28,.30,.31]),
(.335,[.21,.24,.26,.27,.29,.31]),
(.305,[.19,.21,.24,.26,.28,.30,.31]),
(.275,[.16,.18,.20,.22,.24,.25,.26,.27,.28,.29,.30,.31]),
(.245,[.13,.14,.15,.16,.17,.18,.19,.20,.21,.22,.23,.24,.25,.26,.27,.28,.29,.30,.31,.32,.33]),
(.225,[.11,.12,.13,.14,.15,.16,.17,.18,.19,.20,.21,.22,.23,.24,.25,.26,.27,.28,.29,.30,.31,.32,.33,.34]),
(.205,[.08,.09,.10,.11,.12,.13,.14,.15,.16,.17,.18,.19,.20,.21,.22,.23,.24,.25,.26,.27,.28,.29,.30,.31,.32,.33,.34]),
(.185,[.07,.08,.09,.10,.11,.12,.13,.14,.15,.16,.17,.18,.19,.20,.21,.22,.23,.24,.25,.26,.27,.28,.29,.30,.31,.32,.33,.34]),
(.165,[.05,.06,.07,.08,.09,.10,.11,.12,.13,.14,.15,.16,.17,.18,.19,.20,.21,.22,.23,.24,.25,.26,.27,.28,.29,.30,.31,.32,.33]),
(.145,[.04,.05,.06,.07,.08,.09,.10,.11,.12,.13,.14,.15,.16,.17,.18,.19,.20,.21,.22,.23,.24,.25,.26,.27,.28,.29,.30,.31,.32]),
(.125,[.04,.05,.06,.07,.08,.09,.10,.11,.12,.13,.14,.15,.16,.17,.18,.19,.20,.21,.22,.23,.24,.25,.26,.27,.28,.29,.30,.31]),
(.105,[.03,.04,.05,.06,.07,.08,.09,.10,.11,.12,.13,.14,.15,.16,.17,.18,.19,.20,.21,.22,.23,.24,.25,.26,.27,.28,.29,.30]),
(.085,[.02,.03,.04,.05,.06,.07,.08,.09,.10,.11,.12,.13,.14,.15,.16,.17,.18,.19,.20,.21,.22,.23,.24,.25,.26,.27,.28,.29,.30]),
(.065,[.01,.02,.03,.04,.05,.06,.07,.08,.09,.10,.11,.12,.13,.14,.15,.16,.17,.18,.19,.20,.21,.22,.23,.24,.25,.26,.27,.28,.29,.30,.31]),
(.045,[.00,.01,.02,.03,.04,.05,.06,.07,.08,.09,.10,.11,.12,.13,.14,.15,.16,.17,.18,.19,.20,.21,.22,.23,.24,.25,.26,.27,.28,.29,.30,.31,.32]),
(.025,[.00,.01,.02,.03,.04,.05,.06,.07,.08,.09,.10,.11,.12,.13,.14,.15,.16,.17,.18,.19,.20,.21,.22,.23,.24,.25,.26,.27,.28,.29,.30,.31,.32,.33]),
(.005,[.00,.01,.02,.03,.04,.05,.06,.07,.08,.09,.10,.11,.12,.13,.14,.15,.16,.17,.18,.19,.20,.21,.22,.23,.24,.25,.26,.27,.28,.29,.30,.31,.32]),
]

nce_rows = [
(.79,[.00,.05,.13,.14,.22,.23,.26]),
(.78,[.01,.06,.07,.08,.15,.21,.28]),
(.77,[.07,.09,.16,.24,.29]),
(.76,[.08,.17,.18,.20,.23,.25,.29,.30]),
(.75,[.06,.07,.08,.09,.16,.19,.22,.23,.26,.28]),
(.74,[.05,.07,.12,.15,.18,.20,.23,.24,.28]),
(.73,[.06,.17,.19,.23,.25,.27,.28]),
(.72,[.16,.18,.21,.24,.23]),
(.71,[.10,.12,.14,.17,.20,.22,.25]),
(.70,[.02,.11,.13,.16,.18,.19,.21,.24,.26]),
(.69,[.08,.12,.15,.17,.22,.25]),
(.68,[.09,.11,.16,.19,.21,.25,.26]),
(.67,[.01,.09,.10,.13,.17,.26,.29]),
(.66,[.04,.12,.14,.15,.24]),
(.65,[.05,.13,.14,.15,.29]),
(.64,[.11,.14,.16,.28,.29]),
(.63,[.27,.10]),
(.62,[.03,.08,.09,.10,.12,.15,.16,.17,.18]),
(.61,[.02,.08,.10,.13,.15,.16,.26]),
(.60,[.08,.14,.18,.25,.27]),
(.59,[.09,.10,.12,.13,.16,.18,.20,.23,.24]),
(.58,[.09,.11,.14,.17,.19,.21,.22]),
(.57,[.13,.15,.18,.20,.21]),
(.56,[.15,.17,.19,.292]),
(.55,[.09,.14,.16,.18,.20,.21,.23]),
(.54,[.07,.13,.15,.17,.19,.20,.22]),
(.53,[.03,.05,.12,.16,.18,.19,.21,.22]),
(.52,[.02,.03,.07,.09,.10,.14,.15,.17,.20,.24]),
(.51,[.02,.04,.10,.13,.15,.16,.18,.22,.25]),
(.50,[.01,.03,.05,.11,.14,.16,.23,.24,.26]),
(.49,[.00,.01,.12,.18,.21,.23,.25,.27]),
(.48,[.09,.12,.16,.17,.23,.25,.26,.28,.302]),
(.47,[.02,.08,.09,.15,.19,.22,.24,.28]),
(.46,[.09,.13,.16,.23,.27]),
(.45,[.03,.04,.10,.15,.17,.22,.29]),
(.44,[.03,.11,.09,.15,.17,.18,.21,.28]),
(.43,[.03,.10,.09,.16,.18,.20]),
(.42,[.08,.14,.15,.18,.19,.22]),
(.41,[.00,.07,.09,.15,.16,.17,.25,.24]),
(.40,[.01,.07,.08,.12,.13,.14,.16,.18]),
(.39,[.01,.07,.10,.12,.15,.17,.20]),
(.38,[.02,.03,.04,.08,.11,.13,.15,.17,.18]),
(.37,[.06,.12,.14,.16,.17,.19,.292,.26]),
(.36,[.01,.12,.13,.16,.18,.19,.26]),
(.35,[.14,.17,.18,.19,.20,.24]),
(.34,[.02,.05,.17,.18,.20]),
(.33,[.01,.03,.07,.09,.13,.15,.18,.25]),
(.32,[.02,.05,.08,.10,.12,.13,.15,.17]),
(.31,[.01,.02,.04,.06,.11,.14,.16,.19]),
(.30,[.03,.06,.13,.14,.17,.21]),
(.29,[.00,.02,.08,.14,.15,.21,.22]),
(.28,[.01,.05,.09,.12,.16,.21,.26]),
(.27,[.03,.09,.11,.13,.18,.21,.288]),
(.26,[.03,.04,.10,.14,.17,.19,.22,.26]),
(.25,[.02,.08,.12,.15,.21,.27]),
(.24,[.04,.07,.10,.13,.17,.20]),
(.23,[.01,.05,.09,.11,.13,.14,.16,.22,.24]),
(.22,[.03,.06,.07,.08,.12,.14,.15,.18,.25]),
(.21,[.01,.07,.09,.13,.15,.18,.19,.21,.26]),
(.20,[.01,.04,.05,.08,.11,.13,.14,.16,.23,.25]),
(.19,[.02,.06,.10,.12,.14,.17,.20,.24,.26,.302]),
(.18,[.03,.04,.07,.09,.11,.13,.15,.18,.22,.23]),
(.17,[.01,.05,.08,.10,.12,.14,.16,.19,.21,.25]),
(.16,[.00,.02,.03,.06,.09,.11,.13,.15,.17,.20,.24,.28]),
(.15,[.01,.03,.04,.07,.08,.10,.12,.14,.16,.18,.22,.25]),
(.14,[.00,.02,.03,.05,.06,.09,.11,.13,.15,.17,.21,.23]),
(.13,[.01,.02,.04,.05,.07,.08,.10,.12,.14,.16,.19,.22,.25,.293]),
(.12,[.00,.02,.03,.05,.06,.08,.09,.11,.13,.15,.17,.20,.24]),
(.11,[.00,.01,.03,.04,.06,.07,.09,.10,.12,.14,.16,.18,.22,.25]),
(.10,[.00,.01,.02,.04,.05,.07,.08,.10,.11,.13,.15,.17,.19,.23]),
(.09,[.00,.02,.03,.05,.06,.08,.09,.11,.12,.14,.16,.18,.21,.24,.299]),
(.08,[.00,.01,.03,.04,.06,.07,.09,.10,.12,.13,.15,.17,.20,.22]),
(.07,[.00,.02,.03,.05,.06,.08,.09,.11,.12,.14,.16,.18,.21,.23]),
(.06,[.00,.01,.02,.04,.05,.07,.08,.10,.11,.13,.15,.17,.19,.22,.24,.339,.302]),
(.05,[.00,.01,.03,.04,.06,.07,.09,.10,.12,.14,.16,.18,.20,.21,.23,.403]),
(.04,[.00,.02,.03,.05,.06,.08,.09,.11,.13,.15,.17,.19,.21,.22,.326,.347]),
(.03,[.00,.01,.03,.04,.06,.07,.09,.10,.12,.14,.16,.18,.20,.22,.23,.24,.28,.29]),
(.02,[.00,.02,.03,.05,.06,.08,.09,.11,.13,.15,.17,.19,.21,.23,.25,.27,.29,.30]),
(.01,[.00,.01,.03,.04,.06,.07,.09,.10,.12,.14,.16,.18,.20,.22,.24]),
(.00,[.00,.02,.03,.05,.06,.08,.09,.11,.13,.15,.17,.19,.21,.23,.347,.389]),
]
nce_core = [
(.205,[.11,.12,.13]),
(.185,[.10,.11,.12,.13,.14]),
(.165,[.09,.10,.11,.12,.13,.14,.15]),
(.145,[.03,.05,.07,.08,.09,.10,.11,.12,.13,.14]),
(.125,[.01,.02,.03,.04,.05,.06,.07,.08,.09,.10,.11,.12,.13,.14,.15]),
(.105,[.00,.01,.02,.03,.04,.05,.06,.07,.08,.09,.10,.11,.12,.13,.14,.15,.16]),
(.085,[.00,.01,.02,.03,.04,.05,.06,.07,.08,.09,.10,.11,.12,.13,.14,.15,.16,.17]),
(.065,[.00,.01,.02,.03,.04,.05,.06,.07,.08,.09,.10,.11,.12,.13,.14,.15,.16,.17,.18,.19]),
(.045,[.00,.01,.02,.03,.04,.05,.06,.07,.08,.09,.10,.11,.12,.13,.14,.15,.16,.17,.18,.19,.20,.21]),
(.025,[.00,.01,.02,.03,.04,.05,.06,.07,.08,.09,.10,.11,.12,.13,.14,.15,.16,.17,.18,.19,.20,.21,.22,.23,.24,.25]),
(.005,[.00,.01,.02,.03,.04,.05,.06,.07,.08,.09,.10,.11,.12,.13,.14,.15,.16,.17,.18,.19,.20,.21,.22,.23,.24]),
]
nce_fill = [
(.175,[.10,.11,.12,.13,.14]),
(.155,[.07,.09,.10,.11,.12,.13,.14]),
(.135,[.02,.04,.05,.06,.07,.08,.09,.10,.11,.12,.13,.14]),
(.115,[.00,.01,.02,.03,.04,.05,.06,.07,.08,.09,.10,.11,.12,.13,.14,.15]),
(.095,[.00,.01,.02,.03,.04,.05,.06,.07,.08,.09,.10,.11,.12,.13,.14,.15,.16]),
(.075,[.00,.01,.02,.03,.04,.05,.06,.07,.08,.09,.10,.11,.12,.13,.14,.15,.16,.17,.18]),
(.055,[.00,.01,.02,.03,.04,.05,.06,.07,.08,.09,.10,.11,.12,.13,.14,.15,.16,.17,.18,.19,.20]),
(.035,[.00,.01,.02,.03,.04,.05,.06,.07,.08,.09,.10,.11,.12,.13,.14,.15,.16,.17,.18,.19,.20,.21,.22]),
(.015,[.00,.01,.02,.03,.04,.05,.06,.07,.08,.09,.10,.11,.12,.13,.14,.15,.16,.17,.18,.19,.20,.21,.22,.23,.24]),
]

titles = ["NARMA-10, $R$ = 0.84, $p$ = 0", "NARMA-30, $R$ = 0.84, $p$ = 0",
          "laser, $R$ = 0.68, $p$ = 0", "NCE, $R$ = 0.56, $p$ = 0"]
panels = [narma10_rows + narma10_core + narma10_fill,
          narma30_rows + narma30_core + narma30_fill,
          laser_rows + laser_core + laser_fill,
          nce_rows + nce_core + nce_fill]
x_ticks = [0.5, 1.0]
x_tick_labels = ["0.5", "1.0"]
y_ticks = [0.2, 0.4, 0.6, 0.8, 1.0]
y_tick_labels = ["0.2", "0.4", "0.6", "0.8", "1.0"]

INK = "#231f20"
FS = 17.5
plt.rcParams.update({
    "font.family": "Liberation Serif",
    "mathtext.fontset": "custom",
    "mathtext.rm": "Liberation Serif",
    "mathtext.it": "Liberation Serif:italic",
    "font.size": FS,
    "text.color": INK,
    "axes.edgecolor": INK,
    "xtick.color": INK,
    "ytick.color": INK,
})

W, H = 919, 762
fig = plt.figure(figsize=(W / 100, H / 100), dpi=100)
boxes = [(85, 36), (554, 36), (85, 426), (554, 426)]

for i, (rows, title, (left, top)) in enumerate(zip(panels, titles, boxes)):
    ax = fig.add_axes([left / W, 1 - (top + 264) / H, 345.5 / W, 264 / H])
    xs = [x for y, row in rows for x in row]
    ys = [y for y, row in rows for x in row]
    ax.plot(xs, ys, ls="none", marker="o", ms=4.0, mfc="none", mec=INK, mew=0.95, clip_on=False)
    ax.set_xlim(0, 1)
    ax.set_ylim(0, 1)
    ax.set_xticks(x_ticks, x_tick_labels)
    ax.set_yticks(y_ticks, y_tick_labels)
    ax.tick_params(axis="x", direction="in", length=2.5, width=0.7, pad=9)
    ax.tick_params(axis="y", direction="in", length=2.5, width=0.7, pad=6)
    for s in ("top", "right"):
        ax.spines[s].set_visible(False)
    for s in ("left", "bottom"):
        ax.spines[s].set_linewidth(0.8)
    ax.annotate("0", xy=(0, 0), xycoords="axes fraction", xytext=(-15 * 0.72, -9),
                textcoords="offset points", ha="center", va="top")
    ax.set_title(title, fontsize=FS, pad=7)
    ax.set_xlabel("predicted", fontsize=FS)
    ax.xaxis.set_label_coords(0.5, -0.18)
    if i % 2 == 0:
        ax.set_ylabel("actual", fontsize=FS)
        ax.yaxis.set_label_coords(-0.165, 0.5)

fig.savefig("out.png", dpi=100)
